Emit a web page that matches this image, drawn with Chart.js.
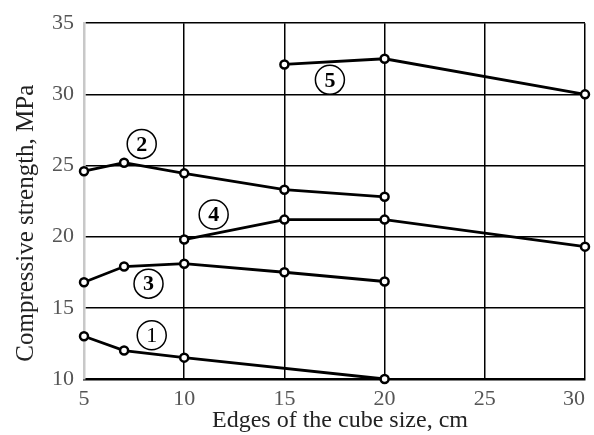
<!DOCTYPE html>
<html>
<head>
<meta charset="utf-8">
<script src="https://cdn.jsdelivr.net/npm/chart.js@4"></script>
<style>
  html, body { margin: 0; padding: 0; background: #fff; }
  #wrap { width: 594px; height: 435px; }
</style>
</head>
<body>
<div id="wrap"><canvas id="chart"></canvas></div>
<script>
// Cube edge sizes (cm) and compressive strength (MPa) for each curve
const sizes1 = [5, 7, 10, 20];
const strength1 = [13.0, 12.0, 11.5, 10.0];
const sizes2 = [5, 7, 10, 15, 20];
const strength2 = [24.6, 25.2, 24.45, 23.3, 22.8];
const sizes3 = [5, 7, 10, 15, 20];
const strength3 = [16.8, 17.9, 18.1, 17.5, 16.85];
const sizes4 = [10, 15, 20, 30];
const strength4 = [19.8, 21.2, 21.2, 19.3];
const sizes5 = [15, 20, 30];
const strength5 = [32.1, 32.5, 30.0];

// Circled curve numbers, placed in data units
const curveNames = ["1", "2", "3", "4", "5"];
const nameX = [8.38, 7.88, 8.22, 11.47, 17.27];
const nameY = [13.08, 26.52, 16.7, 21.56, 31.02];
const nameBold = [false, true, true, true, true];

const xTitle = "Edges of the cube size, cm";
const yTitle = "Compressive strength, MPa";

const FONT = '"Liberation Serif", "Times New Roman", serif';

function toPoints(xs, ys) {
  return xs.map((x, i) => ({ x: x, y: ys[i] }));
}

function curve(xs, ys) {
  return {
    data: toPoints(xs, ys),
    showLine: true,
    borderColor: "#000",
    borderWidth: 2.8,
    pointRadius: 4,
    pointBorderWidth: 2.5,
    pointBorderColor: "#000",
    pointBackgroundColor: "#fff",
    clip: false,
  };
}

// Draws the circled numbers next to the curves
const curveNamePlugin = {
  id: "curveNames",
  afterDatasetsDraw(chart) {
    const { ctx, scales } = chart;
    ctx.save();
    curveNames.forEach((name, i) => {
      const px = scales.x.getPixelForValue(nameX[i]);
      const py = scales.y.getPixelForValue(nameY[i]);
      ctx.beginPath();
      ctx.arc(px, py, 14.5, 0, Math.PI * 2);
      ctx.fillStyle = "#fff";
      ctx.fill();
      ctx.lineWidth = 1.5;
      ctx.strokeStyle = "#000";
      ctx.stroke();
      ctx.fillStyle = "#000";
      ctx.font = (nameBold[i] ? "bold " : "") + "22px " + FONT;
      ctx.textAlign = "center";
      ctx.textBaseline = "middle";
      ctx.fillText(name, px, py + 1);
    });
    ctx.restore();
  },
};

// Axis titles drawn by hand, the source figure has them a bit off-centre
const axisTitlePlugin = {
  id: "axisTitles",
  afterDraw(chart) {
    const { ctx, chartArea } = chart;
    ctx.save();
    ctx.fillStyle = "#222";
    ctx.textAlign = "center";
    ctx.textBaseline = "alphabetic";
    ctx.font = "24px " + FONT;
    ctx.fillText(xTitle, chartArea.left + 256, 427);
    ctx.font = "25px " + FONT;
    ctx.translate(33, chartArea.top + 200);
    ctx.rotate(-Math.PI / 2);
    ctx.fillText(yTitle, 0, 0);
    ctx.restore();
  },
};

new Chart(document.getElementById("chart"), {
  type: "scatter",
  data: {
    datasets: [
      curve(sizes1, strength1),
      curve(sizes2, strength2),
      curve(sizes3, strength3),
      curve(sizes4, strength4),
      curve(sizes5, strength5),
    ],
  },
  options: {
    responsive: true,
    maintainAspectRatio: false,
    animation: false,
    layout: { padding: { top: 22, right: 0, left: 0, bottom: 0 } },
    plugins: {
      legend: { display: false },
      tooltip: { enabled: false },
    },
    scales: {
      x: {
        type: "linear",
        min: 5,
        max: 30,
        ticks: {
          stepSize: 5,
          color: "#555",
          padding: 7,
          font: { family: FONT, size: 22 },
          // last label is pushed left so it stays inside the figure
          callback: (v) => (v === 30 ? "30\u2003" : String(v)),
        },
        grid: {
          drawTicks: false,
          lineWidth: 1.5,
          color: (c) => (c.tick && c.tick.value === 5 ? "#c8c8c8" : "#000"),
        },
        border: { color: "#000", width: 2.5 },
        afterFit(scale) {
          scale.height = 56;
          scale.paddingLeft = 0;
          scale.paddingRight = 9;
        },
      },
      y: {
        min: 10,
        max: 35,
        ticks: {
          stepSize: 5,
          color: "#555",
          padding: 10,
          font: { family: FONT, size: 22 },
        },
        grid: {
          drawTicks: false,
          lineWidth: 1.5,
          color: "#000",
        },
        border: { color: "#c8c8c8", width: 2.5 },
        afterFit(scale) {
          scale.width = 84;
        },
      },
    },
  },
  plugins: [curveNamePlugin, axisTitlePlugin],
});
</script>
</body>
</html>
